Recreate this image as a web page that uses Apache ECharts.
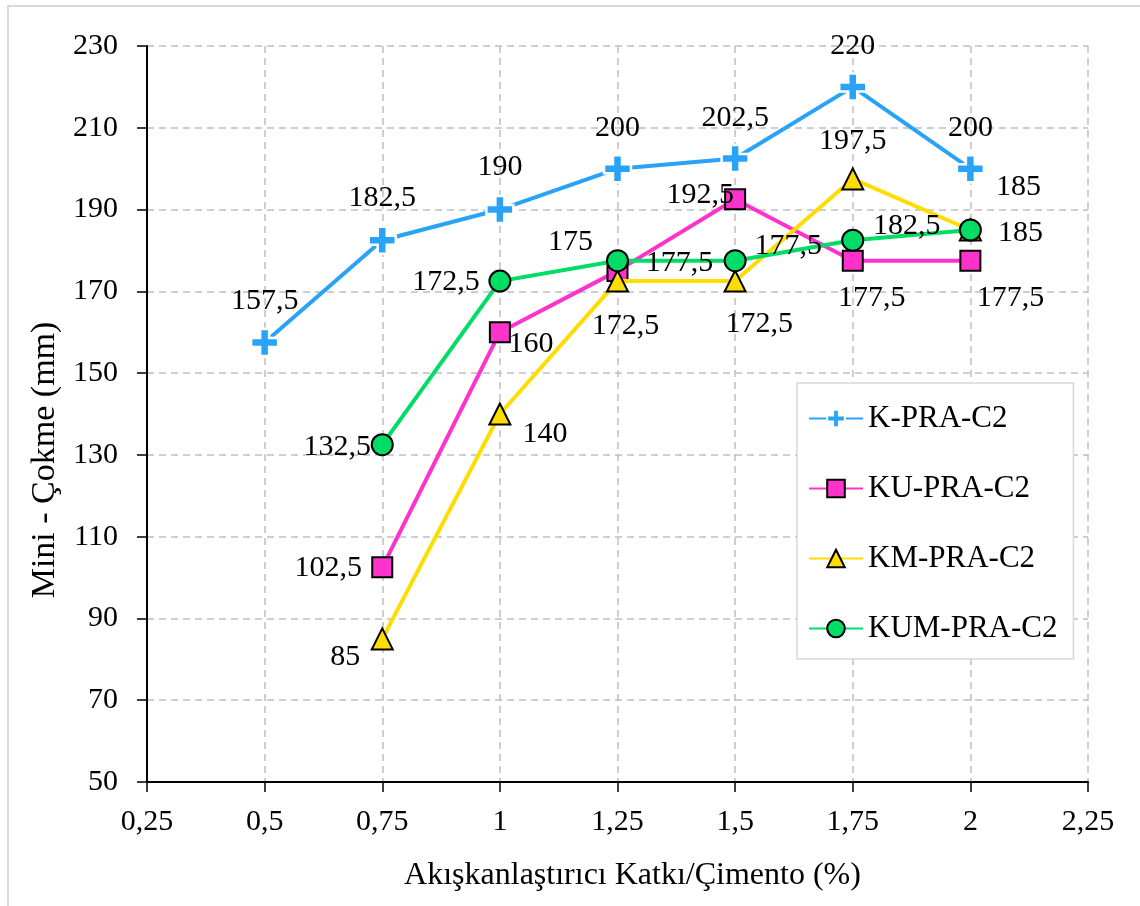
<!DOCTYPE html>
<html>
<head>
<meta charset="utf-8">
<script src="https://cdn.jsdelivr.net/npm/echarts@6/dist/echarts.min.js"></script>
<style>
  html, body { margin: 0; padding: 0; background: #ffffff; }
  #chart { width: 1140px; height: 906px; }
</style>
</head>
<body>
<div id="chart"></div>
<script>
// Superplasticizer dosage (% of cement) on the x axis
const dosages = [0.5, 0.75, 1, 1.25, 1.5, 1.75, 2];

// Mini slump (mm) per mix; shorter series start at 0.75 %
const kPra   = [157.5, 182.5, 190, 200, 202.5, 220, 200];
const kuPra  = [102.5, 160, 175, 192.5, 177.5, 177.5];
const kmPra  = [85, 140, 172.5, 172.5, 197.5, 185];
const kumPra = [132.5, 172.5, 177.5, 177.5, 182.5, 185];

const seriesNames = ['K-PRA-C2', 'KU-PRA-C2', 'KM-PRA-C2', 'KUM-PRA-C2'];

const xTicks = { min: 0.25, max: 2.25, interval: 0.25 };
const yTicks = { min: 50, max: 230, interval: 20 };

// Label placement (pixel offsets from each marker's centre)
const labelOffsets = [
  [[0, -41], [0, -42], [0, -42], [0, -41], [0, -40], [0, -41], [0, -41]],
  [[-54, 1], [31, 12], [-47, -29], [-35, -4], [19, 37], [40, 37]],
  [[-37, 18], [45, 20], [8, 45], [24, 43], [0, -38], [48, -43]],
  [[-45, 2], [-54, 1], [62, 2], [53, -15], [54, -14], [50, 3]]
];

const FONT = '"Liberation Serif", "Times New Roman", serif';
const comma = v => String(v).replace('.', ',');

// Thick plus marker; a white outline keeps the line clear of it
const plusPath = 'path://M8,0h8v8h8v8h-8v8h-8v-8h-8v-8h8z';

const styles = [
  { color: '#29A3F7', symbol: plusPath, size: 27, border: 2.5, borderColor: '#ffffff' },
  { color: '#FF33CC', symbol: 'rect', size: 20, border: 2, borderColor: '#000000' },
  { color: '#FFDD00', symbol: 'triangle', size: 21, border: 2, borderColor: '#000000' },
  { color: '#00DD66', symbol: 'circle', size: 21, border: 2, borderColor: '#000000' }
];

function pairUp(values) {
  const xs = dosages.slice(dosages.length - values.length);
  return values.map((v, i) => [xs[i], v]);
}

function buildSeries(idx, values) {
  const st = styles[idx];
  const data = pairUp(values).map((p, i) => ({
    value: p,
    label: { offset: labelOffsets[idx][i] }
  }));
  return {
    name: seriesNames[idx],
    type: 'line',
    data: data,
    symbol: st.symbol,
    symbolSize: st.size,
    showAllSymbol: true,
    lineStyle: { color: st.color, width: 4 },
    itemStyle: {
      color: st.color,
      borderColor: st.borderColor,
      borderWidth: st.border
    },
    emphasis: { disabled: true },
    label: {
      show: true,
      position: 'inside',
      color: '#000000',
      fontFamily: FONT,
      fontSize: 30,
      formatter: p => comma(p.value[1])
    },
    z: 2 + idx
  };
}

const chart = echarts.init(document.getElementById('chart'), null, { renderer: 'canvas' });

chart.setOption({
  backgroundColor: '#ffffff',
  animation: false,
  textStyle: { fontFamily: FONT, color: '#000000' },
  graphic: [{
    type: 'rect',
    shape: { x: 8, y: 6, width: 1200, height: 1000 },
    style: { fill: 'none', stroke: '#d9d9d9', lineWidth: 2 },
    silent: true,
    z: -10
  }],
  grid: { left: 147, top: 46, right: 52, bottom: 124, containLabel: false },
  legend: {
    orient: 'vertical',
    left: 797,
    top: 383,
    padding: [20, 16, 15, 11],
    itemGap: 39,
    itemWidth: 54,
    itemHeight: 22,
    backgroundColor: '#ffffff',
    borderColor: '#d9d9d9',
    borderWidth: 1.5,
    textStyle: { fontFamily: FONT, fontSize: 31, color: '#000000' },
    data: seriesNames
  },
  xAxis: {
    type: 'value',
    min: xTicks.min,
    max: xTicks.max,
    interval: xTicks.interval,
    name: 'Akışkanlaştırıcı Katkı/Çimento (%)',
    nameLocation: 'middle',
    nameGap: 78,
    nameTextStyle: { fontFamily: FONT, fontSize: 32, color: '#000000', padding: [0, 0, 0, 30] },
    axisLine: { show: true, onZero: false, lineStyle: { color: '#000000', width: 2 } },
    axisTick: { show: true, length: 10, lineStyle: { color: '#000000', width: 1.5 } },
    axisLabel: {
      margin: 25,
      fontFamily: FONT, fontSize: 30, color: '#000000',
      formatter: v => comma(v)
    },
    splitLine: { show: true, lineStyle: { color: '#bfbfbf', width: 1.5, type: [7, 5] } }
  },
  yAxis: {
    type: 'value',
    min: yTicks.min,
    max: yTicks.max,
    interval: yTicks.interval,
    name: 'Mini - Çokme (mm)',
    nameLocation: 'middle',
    nameGap: 82,
    nameTextStyle: { fontFamily: FONT, fontSize: 34, color: '#000000', padding: [0, 92, 0, 0] },
    axisLine: { show: true, onZero: false, lineStyle: { color: '#000000', width: 2 } },
    axisTick: { show: true, length: 10, lineStyle: { color: '#000000', width: 1.5 } },
    axisLabel: {
      margin: 29,
      fontFamily: FONT, fontSize: 30, color: '#000000'
    },
    splitLine: { show: true, lineStyle: { color: '#bfbfbf', width: 1.5, type: [7, 5] } }
  },
  series: [
    buildSeries(0, kPra),
    buildSeries(1, kuPra),
    buildSeries(2, kmPra),
    buildSeries(3, kumPra)
  ]
});
</script>
</body>
</html>
